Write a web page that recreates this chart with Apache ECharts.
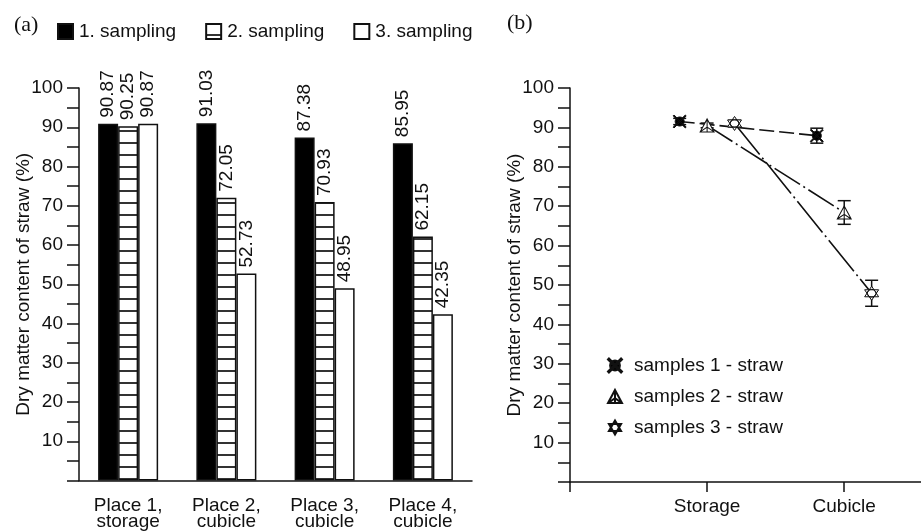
<!DOCTYPE html>
<html>
<head>
<meta charset="utf-8">
<script src="https://cdn.jsdelivr.net/npm/echarts@6/dist/echarts.min.js"></script>
<style>
  html, body { margin: 0; padding: 0; background: #fff; }
  #chart { width: 921px; height: 531px; }
</style>
</head>
<body>
<div id="chart"></div>
<script>
// (a) bar chart data
const places = ['Place 1,\nstorage', 'Place 2,\ncubicle', 'Place 3,\ncubicle', 'Place 4,\ncubicle'];
const sampling1 = [90.87, 91.03, 87.38, 85.95];
const sampling2 = [90.25, 72.05, 70.93, 62.15];
const sampling3 = [90.87, 52.73, 48.95, 42.35];

// (b) means and errors, Storage = 1, Cubicle = 2 on x
const sitePos = [1, 2];
const siteNames = { 1: 'Storage', 2: 'Cubicle' };
const samples1 = [91.5, 87.9];
const samples2 = [90.5, 68.4];
const samples3 = [91.0, 47.9];
const err1 = [0.8, 1.9];
const err2 = [0.6, 3.0];
const err3 = [0.8, 3.3];

const FONT = "'Liberation Sans', Arial, sans-serif";
const INK = '#111';

// horizontal hatching for "2. sampling"
const hatch = document.createElement('canvas');
hatch.width = 4; hatch.height = 12;
(function () {
  const c = hatch.getContext('2d');
  c.fillStyle = '#fff'; c.fillRect(0, 0, 4, 12);
  c.fillStyle = '#333'; c.fillRect(0, 10, 4, 2);
})();

const sym1 = 'path://M16,10 A6,6 0 1,1 4,10 A6,6 0 1,1 16,10 Z ' +
  'M2.57,1.43 L18.57,17.43 L17.43,18.57 L1.43,2.57 Z ' +
  'M17.43,1.43 L18.57,2.57 L2.57,18.57 L1.43,17.43 Z';
const sym2 = 'path://M10,2 L18,17 L2,17 Z M10,2 L10,17 M2,17 L10,11.5 L18,17';
const sym3 = 'path://M10,1 L17.8,14.5 L2.2,14.5 Z M10,19 L2.2,5.5 L17.8,5.5 Z ' +
  'M15,10 A5,5 0 1,1 5,10 A5,5 0 1,1 15,10 Z';

const dodge = [-0.2, 0, 0.2];
const pts = (vals, k) => vals.map((v, i) => [sitePos[i] + dodge[k], v]);
const errs = (vals, e, k) => vals.map((v, i) => [sitePos[i] + dodge[k], v - e[i], v + e[i]]);

const chart = echarts.init(document.getElementById('chart'));

const barLabel = {
  show: true, position: 'top', rotate: 90, align: 'left', verticalAlign: 'middle',
  distance: 6, fontSize: 19, fontFamily: FONT, color: INK,
  formatter: (p) => p.value.toFixed(2)
};

const yAxisBase = (gi) => ({
  gridIndex: gi, type: 'value', min: 0, max: 100, interval: 5,
  name: 'Dry matter content of straw (%)', nameLocation: 'middle', nameGap: 46,
  nameMoveOverlap: false,
  nameTextStyle: { fontSize: 19, fontFamily: FONT, color: INK },
  axisLine: { show: true, lineStyle: { color: INK, width: 1.5 } },
  axisTick: { show: true, length: 12, lineStyle: { color: INK, width: 1.5 } },
  axisLabel: {
    fontSize: 19, fontFamily: FONT, color: INK, margin: 16,
    formatter: (v) => (v > 0 && v % 10 === 0 ? String(v) : '')
  },
  splitLine: { show: false }
});

function renderErr(params, api) {
  const x = api.value(0);
  const lo = api.coord([x, api.value(1)]);
  const hi = api.coord([x, api.value(2)]);
  const w = 6.5;
  const st = { stroke: INK, lineWidth: 1.5 };
  return {
    type: 'group',
    children: [
      { type: 'line', shape: { x1: lo[0], y1: lo[1], x2: hi[0], y2: hi[1] }, style: st },
      { type: 'line', shape: { x1: lo[0] - w, y1: lo[1], x2: lo[0] + w, y2: lo[1] }, style: st },
      { type: 'line', shape: { x1: hi[0] - w, y1: hi[1], x2: hi[0] + w, y2: hi[1] }, style: st }
    ]
  };
}

const lineSeries = (name, vals, k, dash) => ({
  name: name, type: 'line', xAxisIndex: 1, yAxisIndex: 1, data: pts(vals, k),
  symbol: 'none', silent: true, z: 2,
  lineStyle: { color: INK, width: 1.6, type: dash }
});

const markSeries = (name, vals, k, sym, fill, size) => ({
  name: name, type: 'scatter', xAxisIndex: 1, yAxisIndex: 1, data: pts(vals, k),
  symbol: sym, symbolSize: size, z: 5,
  itemStyle: { color: fill, borderColor: INK, borderWidth: 1, opacity: 1 }
});

const errSeries = (vals, e, k) => ({
  type: 'custom', xAxisIndex: 1, yAxisIndex: 1, data: errs(vals, e, k),
  renderItem: renderErr, silent: true, z: 3
});

chart.setOption({
  animation: false,
  backgroundColor: '#fff',
  textStyle: { fontFamily: FONT, color: INK },
  title: [
    { text: '(a)', left: 14, top: 14, padding: 0, textStyle: { fontFamily: "'Liberation Serif', serif", fontSize: 22, fontWeight: 'normal', color: INK } },
    { text: '(b)', left: 507, top: 12, padding: 0, textStyle: { fontFamily: "'Liberation Serif', serif", fontSize: 22, fontWeight: 'normal', color: INK } }
  ],
  legend: [
    {
      data: ['1. sampling', '2. sampling', '3. sampling'],
      left: 57, top: 22, padding: 0, itemWidth: 15, itemHeight: 15, itemGap: 29,
      icon: 'rect',
      textStyle: { fontSize: 19, fontFamily: FONT, color: INK, padding: [0, 0, 0, 1] }
    },
    {
      data: ['samples 1 - straw', 'samples 2 - straw', 'samples 3 - straw'],
      orient: 'vertical', left: 607, top: 355, padding: 0, itemWidth: 14, itemHeight: 14, itemGap: 10,
      textStyle: { fontSize: 19, fontFamily: FONT, color: INK, padding: [0, 0, 0, 7], lineHeight: 21 }
    }
  ],
  grid: [
    { left: 79, top: 88, width: 393, height: 394 },
    { left: 570, top: 88, right: 0, height: 394 }
  ],
  xAxis: [
    {
      gridIndex: 0, type: 'category', data: places,
      axisLine: { lineStyle: { color: INK, width: 1.5 } },
      axisTick: { length: 10, lineStyle: { color: INK, width: 1.5 } },
      axisLabel: { fontSize: 19, fontFamily: FONT, color: INK, margin: 17, lineHeight: 16 }
    },
    {
      gridIndex: 1, type: 'value', min: 0, max: 2.56, interval: 1,
      axisLine: { lineStyle: { color: INK, width: 1.5 } },
      axisTick: { length: 10, customValues: [0, 1, 2], lineStyle: { color: INK, width: 1.5 } },
      axisLabel: {
        fontSize: 19, fontFamily: FONT, color: INK, margin: 15,
        customValues: [1, 2],
        formatter: (v) => siteNames[v] || ''
      },
      splitLine: { show: false }
    }
  ],
  yAxis: [yAxisBase(0), yAxisBase(1)],
  series: [
    {
      name: '1. sampling', type: 'bar', data: sampling1, barWidth: 20, barGap: '0%',
      itemStyle: { color: '#000', borderColor: INK, borderWidth: 1.5 }, label: barLabel
    },
    {
      name: '2. sampling', type: 'bar', data: sampling2, barWidth: 20, barGap: '0%',
      itemStyle: { color: { image: hatch, repeat: 'repeat' }, borderColor: INK, borderWidth: 1.5 }, label: barLabel
    },
    {
      name: '3. sampling', type: 'bar', data: sampling3, barWidth: 20, barGap: '0%',
      itemStyle: { color: '#fff', borderColor: INK, borderWidth: 1.5 }, label: barLabel
    },
    lineSeries('line 1', samples1, 0, [15, 5]),
    lineSeries('line 2', samples2, 1, [30, 4, 2, 4]),
    lineSeries('line 3', samples3, 2, [40, 4, 2, 4]),
    errSeries(samples1, err1, 0),
    errSeries(samples2, err2, 1),
    errSeries(samples3, err3, 2),
    markSeries('samples 1 - straw', samples1, 0, sym1, '#000', 13),
    markSeries('samples 2 - straw', samples2, 1, sym2, '#fff', [14, 13]),
    markSeries('samples 3 - straw', samples3, 2, sym3, '#fff', 14)
  ]
});
</script>
</body>
</html>
